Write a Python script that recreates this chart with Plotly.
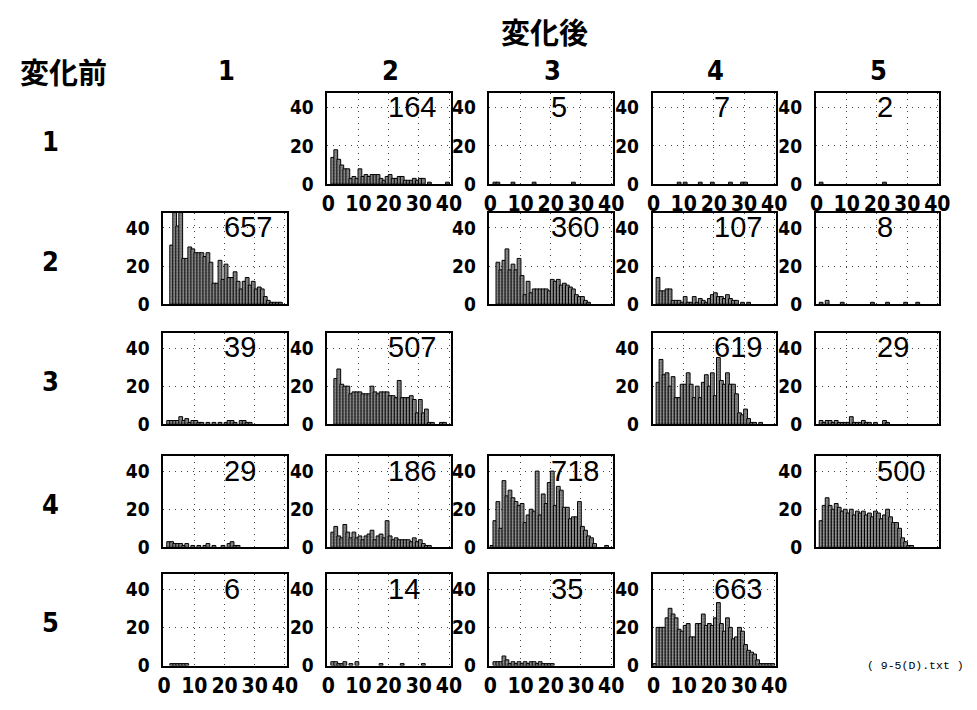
import plotly.graph_objects as go

# Value bins are one unit wide: [0,1), [1,2), ... [39,40)
bin_left = list(range(40))

levels = ["1", "2", "3", "4", "5"]
title_after = "変化後"
title_before = "変化前"
source_note = "( 9-5(D).txt )"
x_ticks = [0, 10, 20, 30, 40]
y_ticks = [0, 20, 40]

# Counts per value bin for each (before -> after) transition
b1_a2 = [0, 14, 18, 13, 10, 8, 8, 3, 4, 3, 8, 4, 5, 4, 5, 5, 5, 3, 2, 4,
         5, 3, 3, 4, 4, 2, 2, 2, 3, 2, 3, 3, 0, 1, 0, 0, 0, 0, 0, 1]
b1_a3 = [0, 1, 1, 0, 0, 0, 0, 1, 0, 0, 0, 0, 0, 0, 1, 0, 0, 0, 0, 0,
         0, 0, 0, 0, 0, 0, 0, 1, 0, 0, 0, 0, 0, 0, 0, 0, 0, 0, 0, 0]
b1_a4 = [0, 0, 0, 0, 0, 0, 0, 0, 1, 0, 1, 0, 0, 0, 0, 1, 0, 0, 0, 1,
         0, 0, 0, 0, 0, 1, 0, 0, 0, 1, 1, 0, 0, 0, 0, 0, 0, 0, 0, 0]
b1_a5 = [0, 1, 0, 0, 0, 0, 0, 0, 0, 0, 0, 0, 0, 0, 0, 0, 0, 0, 0, 0,
         0, 0, 1, 0, 0, 0, 0, 0, 0, 0, 0, 0, 0, 0, 0, 0, 0, 0, 0, 0]

b2_a1 = [0, 0, 31, 48, 41, 48, 24, 24, 30, 29, 27, 27, 27, 25, 27, 22, 11, 11, 23, 13,
         21, 14, 14, 17, 12, 8, 12, 14, 10, 12, 8, 9, 8, 4, 2, 1, 1, 1, 1, 0]
b2_a3 = [0, 0, 22, 18, 23, 29, 18, 21, 18, 24, 15, 5, 12, 6, 8, 8, 8, 8, 8, 7,
         13, 12, 13, 10, 11, 10, 9, 8, 5, 4, 4, 2, 1, 0, 0, 0, 0, 0, 0, 0]
b2_a4 = [0, 14, 7, 7, 8, 8, 2, 2, 2, 1, 4, 1, 1, 4, 1, 3, 2, 1, 3, 5,
         6, 4, 4, 3, 5, 3, 2, 2, 0, 1, 0, 1, 0, 0, 0, 0, 0, 0, 0, 0]
b2_a5 = [0, 1, 0, 2, 0, 0, 0, 0, 1, 0, 0, 0, 0, 0, 0, 0, 0, 0, 1, 0,
         0, 0, 0, 1, 0, 0, 0, 0, 0, 1, 0, 0, 0, 1, 0, 0, 0, 0, 0, 0]

b3_a1 = [0, 2, 2, 2, 2, 4, 2, 3, 1, 2, 2, 1, 1, 0, 1, 0, 1, 0, 1, 0,
         1, 2, 2, 1, 0, 2, 2, 1, 1, 0, 0, 0, 0, 0, 0, 0, 0, 0, 0, 0]
b3_a2 = [0, 0, 24, 29, 21, 20, 20, 16, 17, 17, 17, 16, 16, 16, 20, 17, 16, 17, 17, 17,
         15, 15, 14, 23, 14, 14, 14, 15, 13, 6, 13, 6, 8, 1, 1, 0, 0, 1, 1, 0]
b3_a4 = [0, 22, 34, 26, 27, 20, 25, 14, 14, 21, 21, 27, 21, 14, 20, 14, 22, 26, 20, 27,
         15, 35, 23, 21, 27, 21, 21, 16, 6, 5, 8, 3, 1, 1, 0, 1, 0, 0, 0, 0]
b3_a5 = [0, 2, 1, 2, 2, 1, 2, 1, 1, 1, 1, 4, 1, 1, 1, 2, 1, 1, 0, 1,
         0, 0, 2, 1, 0, 0, 0, 0, 0, 0, 0, 0, 0, 0, 0, 0, 0, 0, 0, 0]

b4_a1 = [0, 3, 3, 2, 2, 2, 1, 2, 0, 1, 0, 1, 0, 1, 2, 0, 1, 0, 0, 1,
         0, 2, 3, 1, 1, 0, 0, 0, 0, 0, 0, 0, 0, 0, 0, 0, 0, 0, 0, 0]
b4_a2 = [0, 8, 11, 6, 5, 12, 8, 5, 8, 5, 6, 4, 6, 7, 9, 4, 6, 7, 5, 14,
         6, 4, 5, 4, 4, 4, 4, 3, 5, 3, 4, 2, 1, 1, 0, 0, 0, 0, 0, 0]
b4_a3 = [1, 14, 24, 10, 35, 27, 30, 26, 24, 22, 23, 13, 17, 20, 19, 40, 17, 28, 23, 34,
         40, 22, 32, 30, 21, 21, 15, 16, 16, 24, 11, 9, 6, 5, 2, 0, 0, 0, 1, 0]
b4_a5 = [0, 14, 22, 26, 22, 20, 23, 21, 19, 20, 18, 20, 17, 19, 18, 19, 17, 18, 16, 19,
         18, 15, 17, 20, 16, 13, 13, 10, 5, 3, 1, 1, 0, 0, 0, 0, 0, 0, 0, 0]

b5_a1 = [0, 0, 1, 1, 1, 1, 1, 1, 0, 0, 0, 0, 0, 0, 0, 0, 0, 0, 0, 0,
         0, 0, 0, 0, 0, 0, 0, 0, 0, 0, 0, 0, 0, 0, 0, 0, 0, 0, 0, 0]
b5_a2 = [0, 2, 2, 1, 1, 2, 0, 1, 0, 2, 0, 0, 0, 0, 0, 0, 0, 1, 0, 0,
         0, 0, 0, 0, 1, 0, 0, 0, 0, 0, 0, 1, 0, 0, 0, 0, 0, 0, 0, 0]
b5_a3 = [0, 2, 2, 2, 5, 3, 1, 2, 1, 2, 1, 2, 1, 2, 2, 1, 2, 1, 1, 1,
         1, 0, 0, 0, 0, 0, 0, 0, 0, 0, 0, 0, 0, 0, 0, 0, 0, 0, 0, 0]
b5_a4 = [1, 20, 20, 20, 25, 30, 27, 25, 19, 18, 21, 22, 15, 15, 22, 22, 27, 21, 22, 21,
         25, 33, 22, 18, 25, 20, 14, 15, 20, 18, 11, 8, 7, 6, 3, 1, 1, 1, 1, 1]

panels = {
    (1, 2): b1_a2, (1, 3): b1_a3, (1, 4): b1_a4, (1, 5): b1_a5,
    (2, 1): b2_a1, (2, 3): b2_a3, (2, 4): b2_a4, (2, 5): b2_a5,
    (3, 1): b3_a1, (3, 2): b3_a2, (3, 4): b3_a4, (3, 5): b3_a5,
    (4, 1): b4_a1, (4, 2): b4_a2, (4, 3): b4_a3, (4, 5): b4_a5,
    (5, 1): b5_a1, (5, 2): b5_a2, (5, 3): b5_a3, (5, 4): b5_a4,
}

# Page geometry (pixels)
W, H = 977, 710
col_left = [160, 327, 492, 658, 824]
row_top = [94, 216, 338, 463, 583]
PW, PH = 126, 93

NUM_FONT = "Liberation Sans Narrow, DejaVu Sans Condensed, Arial Narrow, sans-serif"
JP_FONT = "Noto Sans CJK JP, sans-serif"
GRID_DASH = "1px,5px"

bin_centers = [b + 0.5 for b in bin_left]

fig = go.Figure()
layout = {}
annotations = []

for k, ((r, c), counts) in enumerate(panels.items(), start=1):
    sfx = "" if k == 1 else str(k)
    xa, ya = "x" + sfx, "y" + sfx
    fig.add_trace(go.Bar(
        x=bin_centers,
        y=[v if v else None for v in counts],
        xaxis=xa, yaxis=ya,
        width=1.25,
        marker=dict(
            color="#6e6e6e",
            line=dict(color="black", width=1),
            pattern=dict(shape=".", fgcolor="#e6e6e6", size=3, solidity=0.35),
        ),
        hoverinfo="x+y",
    ))
    left, top = col_left[c - 1], row_top[r - 1]
    show_x = r in (1, 5)
    layout["xaxis" + sfx] = dict(
        domain=[left / W, (left + PW) / W], anchor=ya,
        range=[-0.3, 40.7], tickvals=x_ticks, showticklabels=show_x,
        tickfont=dict(family=NUM_FONT, size=21, color="black", weight="bold"),
        showgrid=True, gridcolor="#444444", griddash=GRID_DASH, gridwidth=1,
        showline=True, mirror=True, linecolor="black", linewidth=1.6,
        zeroline=False, ticks="", fixedrange=True,
    )
    layout["yaxis" + sfx] = dict(
        domain=[1 - (top + PH) / H, 1 - top / H], anchor=xa,
        range=[0, 48], tickvals=y_ticks,
        tickfont=dict(family=NUM_FONT, size=19, color="black", weight="bold"),
        showgrid=True, gridcolor="#444444", griddash=GRID_DASH, gridwidth=1,
        showline=True, mirror=True, linecolor="black", linewidth=1.6,
        zeroline=False, ticks="", ticklabelstandoff=8, fixedrange=True,
    )
    annotations.append(dict(
        xref=xa, yref=ya, x=19.6, y=40.3, text=str(sum(counts)),
        showarrow=False, xanchor="left", yanchor="middle", borderpad=0,
        font=dict(family="Liberation Sans, Arial, sans-serif", size=29, color="black"),
    ))

# Headers
annotations.append(dict(
    xref="paper", yref="paper", x=548 / W, y=1 - 31 / H, text=title_after,
    showarrow=False, xanchor="center", yanchor="middle",
    font=dict(family=JP_FONT, size=29, color="black", weight="bold"),
))
annotations.append(dict(
    xref="paper", yref="paper", x=59 / W, y=1 - 72 / H, text=title_before,
    showarrow=False, xanchor="center", yanchor="middle",
    font=dict(family=JP_FONT, size=29, color="black", weight="bold"),
))
for i, lab in enumerate(levels):
    annotations.append(dict(
        xref="paper", yref="paper", x=(col_left[i] + PW / 2 + 1) / W, y=1 - 72 / H,
        text=lab, showarrow=False, xanchor="center", yanchor="middle",
        font=dict(family=NUM_FONT, size=27, color="black", weight="bold"),
    ))
    annotations.append(dict(
        xref="paper", yref="paper", x=45 / W, y=1 - (row_top[i] + PH / 2 + 3) / H,
        text=lab, showarrow=False, xanchor="center", yanchor="middle",
        font=dict(family=NUM_FONT, size=27, color="black", weight="bold"),
    ))
annotations.append(dict(
    xref="paper", yref="paper", x=926 / W, y=1 - 676 / H, text=source_note,
    showarrow=False, xanchor="center", yanchor="middle",
    font=dict(family="Liberation Mono, DejaVu Sans Mono, monospace", size=11.5, color="black"),
))

fig.update_layout(
    width=W, height=H, margin=dict(l=0, r=0, t=0, b=0),
    paper_bgcolor="white", plot_bgcolor="white",
    showlegend=False, annotations=annotations, **layout,
)

fig.write_html("out.html")
